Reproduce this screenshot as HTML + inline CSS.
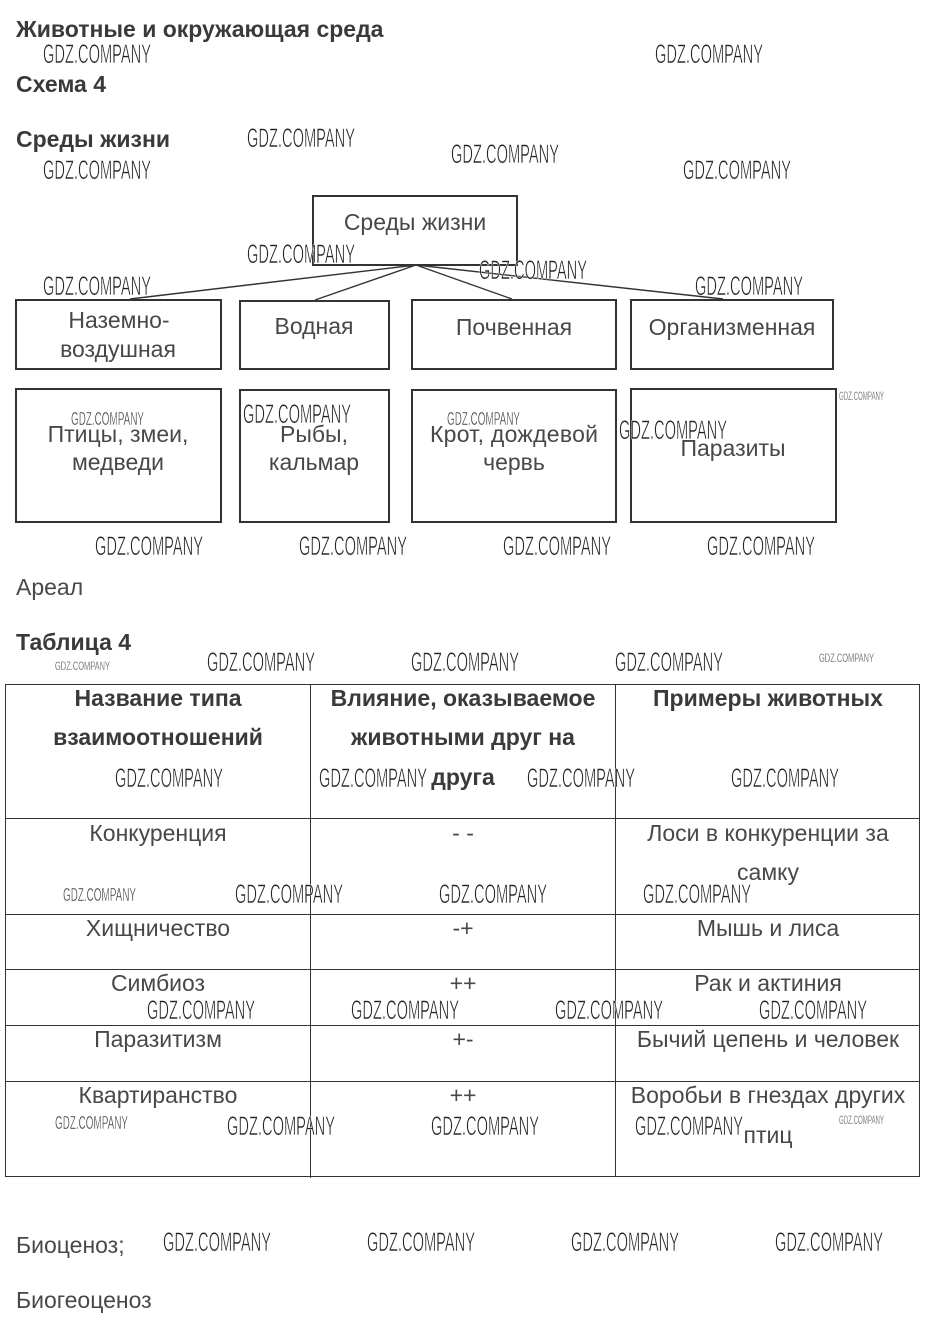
<!DOCTYPE html>
<html><head><meta charset="utf-8">
<style>
html,body{margin:0;padding:0;background:#fff}
svg{display:block}
text{font-family:"Liberation Sans",sans-serif;font-size:23px;fill:#484848}
.b{font-weight:bold;fill:#3a3a3a}
.c{text-anchor:middle}
.w{fill:#222;font-size:27px;stroke:#fff;stroke-width:.6px;transform:translateY(-1px)}
.m{fill:#333;font-size:18px;stroke:#fff;stroke-width:.4px}
.t{fill:#555;font-size:12px;stroke:#fff;stroke-width:.2px}
</style></head><body>
<svg width="928" height="1323" viewBox="0 0 928 1323" xmlns="http://www.w3.org/2000/svg">
<rect width="928" height="1323" fill="#fff"/>
<text class="b" x="16" y="37">Животные и окружающая среда</text>
<text class="b" x="16" y="92">Схема 4</text>
<text class="b" x="16" y="147">Среды жизни</text>

<g fill="none" stroke="#333" stroke-width="2">
<rect x="313" y="196" width="204" height="69"/>
<rect x="16" y="300" width="205" height="69"/>
<rect x="240" y="301" width="149" height="68"/>
<rect x="412" y="300" width="204" height="69"/>
<rect x="631" y="300" width="202" height="69"/>
<rect x="16" y="389" width="205" height="133"/>
<rect x="240" y="390" width="149" height="132"/>
<rect x="412" y="390" width="204" height="132"/>
<rect x="631" y="389" width="205" height="133"/>
</g>
<g stroke="#333" stroke-width="1.4" fill="none">
<path d="M416 265L130 299M416 265L315 300M416 265L512 299M416 265L723 299"/>
</g>
<g class="c">
<text class="c" x="415" y="230">Среды жизни</text>
<text class="c" x="119" y="328">Наземно-</text>
<text class="c" x="118" y="357">воздушная</text>
<text class="c" x="314" y="334">Водная</text>
<text class="c" x="514" y="335">Почвенная</text>
<text class="c" x="732" y="335">Организменная</text>
<text class="c" x="118" y="442">Птицы, змеи,</text>
<text class="c" x="118" y="470">медведи</text>
<text class="c" x="314" y="442">Рыбы,</text>
<text class="c" x="314" y="470">кальмар</text>
<text class="c" x="514" y="442" textLength="168">Крот, дождевой</text>
<text class="c" x="514" y="470">червь</text>
<text class="c" x="733" y="456">Паразиты</text>
</g>
<text x="16" y="595">Ареал</text>
<text class="b" x="16" y="650">Таблица 4</text>

<g stroke="#333" stroke-width="1" fill="none">
<path d="M5 684.5H920M5 818.5H920M5 914.5H920M5 969.5H920M5 1025.5H920M5 1081.5H920M5 1176.5H920"/>
<path d="M5.5 684V1177M310.5 684V1178M615.5 684V1177M919.5 684V1177"/>
</g>

<text class="b c" x="158" y="706">Название типа</text>
<text class="b c" x="158" y="745">взаимоотношений</text>
<text class="b c" x="463" y="706">Влияние, оказываемое</text>
<text class="b c" x="463" y="745">животными друг на</text>
<text class="b c" x="463" y="785">друга</text>
<text class="b c" x="768" y="706">Примеры животных</text>

<text class="c" x="158" y="841">Конкуренция</text>
<text class="c" x="463" y="841">- -</text>
<text class="c" x="768" y="841">Лоси в конкуренции за</text>
<text class="c" x="768" y="880">самку</text>
<text class="c" x="158" y="936">Хищничество</text>
<text class="c" x="463" y="936">-+</text>
<text class="c" x="768" y="936">Мышь и лиса</text>
<text class="c" x="158" y="991">Симбиоз</text>
<text class="c" x="463" y="991">++</text>
<text class="c" x="768" y="991">Рак и актиния</text>
<text class="c" x="158" y="1047">Паразитизм</text>
<text class="c" x="463" y="1047">+-</text>
<text class="c" x="768" y="1047">Бычий цепень и человек</text>
<text class="c" x="158" y="1103">Квартиранство</text>
<text class="c" x="463" y="1103">++</text>
<text class="c" x="768" y="1103">Воробьи в гнездах других</text>
<text class="c" x="768" y="1143">птиц</text>

<text x="16" y="1253">Биоценоз;</text>
<text x="16" y="1308">Биогеоценоз</text>

<g class="wm">
<text class="w" x="43" y="64" textLength="108" lengthAdjust="spacingAndGlyphs">GDZ.COMPANY</text>
<text class="w" x="655" y="64" textLength="108" lengthAdjust="spacingAndGlyphs">GDZ.COMPANY</text>
<text class="w" x="247" y="148" textLength="108" lengthAdjust="spacingAndGlyphs">GDZ.COMPANY</text>
<text class="w" x="451" y="164" textLength="108" lengthAdjust="spacingAndGlyphs">GDZ.COMPANY</text>
<text class="w" x="43" y="180" textLength="108" lengthAdjust="spacingAndGlyphs">GDZ.COMPANY</text>
<text class="w" x="683" y="180" textLength="108" lengthAdjust="spacingAndGlyphs">GDZ.COMPANY</text>
<text class="w" x="247" y="264" textLength="108" lengthAdjust="spacingAndGlyphs">GDZ.COMPANY</text>
<text class="w" x="479" y="280" textLength="108" lengthAdjust="spacingAndGlyphs">GDZ.COMPANY</text>
<text class="w" x="43" y="296" textLength="108" lengthAdjust="spacingAndGlyphs">GDZ.COMPANY</text>
<text class="w" x="695" y="296" textLength="108" lengthAdjust="spacingAndGlyphs">GDZ.COMPANY</text>
<text class="w" x="243" y="424" textLength="108" lengthAdjust="spacingAndGlyphs">GDZ.COMPANY</text>
<text class="w" x="619" y="440" textLength="108" lengthAdjust="spacingAndGlyphs">GDZ.COMPANY</text>
<text class="w" x="95" y="556" textLength="108" lengthAdjust="spacingAndGlyphs">GDZ.COMPANY</text>
<text class="w" x="299" y="556" textLength="108" lengthAdjust="spacingAndGlyphs">GDZ.COMPANY</text>
<text class="w" x="503" y="556" textLength="108" lengthAdjust="spacingAndGlyphs">GDZ.COMPANY</text>
<text class="w" x="707" y="556" textLength="108" lengthAdjust="spacingAndGlyphs">GDZ.COMPANY</text>
<text class="w" x="207" y="672" textLength="108" lengthAdjust="spacingAndGlyphs">GDZ.COMPANY</text>
<text class="w" x="411" y="672" textLength="108" lengthAdjust="spacingAndGlyphs">GDZ.COMPANY</text>
<text class="w" x="615" y="672" textLength="108" lengthAdjust="spacingAndGlyphs">GDZ.COMPANY</text>
<text class="w" x="115" y="788" textLength="108" lengthAdjust="spacingAndGlyphs">GDZ.COMPANY</text>
<text class="w" x="319" y="788" textLength="108" lengthAdjust="spacingAndGlyphs">GDZ.COMPANY</text>
<text class="w" x="527" y="788" textLength="108" lengthAdjust="spacingAndGlyphs">GDZ.COMPANY</text>
<text class="w" x="731" y="788" textLength="108" lengthAdjust="spacingAndGlyphs">GDZ.COMPANY</text>
<text class="w" x="235" y="904" textLength="108" lengthAdjust="spacingAndGlyphs">GDZ.COMPANY</text>
<text class="w" x="439" y="904" textLength="108" lengthAdjust="spacingAndGlyphs">GDZ.COMPANY</text>
<text class="w" x="643" y="904" textLength="108" lengthAdjust="spacingAndGlyphs">GDZ.COMPANY</text>
<text class="w" x="147" y="1020" textLength="108" lengthAdjust="spacingAndGlyphs">GDZ.COMPANY</text>
<text class="w" x="351" y="1020" textLength="108" lengthAdjust="spacingAndGlyphs">GDZ.COMPANY</text>
<text class="w" x="555" y="1020" textLength="108" lengthAdjust="spacingAndGlyphs">GDZ.COMPANY</text>
<text class="w" x="759" y="1020" textLength="108" lengthAdjust="spacingAndGlyphs">GDZ.COMPANY</text>
<text class="w" x="227" y="1136" textLength="108" lengthAdjust="spacingAndGlyphs">GDZ.COMPANY</text>
<text class="w" x="431" y="1136" textLength="108" lengthAdjust="spacingAndGlyphs">GDZ.COMPANY</text>
<text class="w" x="635" y="1136" textLength="108" lengthAdjust="spacingAndGlyphs">GDZ.COMPANY</text>
<text class="w" x="163" y="1252" textLength="108" lengthAdjust="spacingAndGlyphs">GDZ.COMPANY</text>
<text class="w" x="367" y="1252" textLength="108" lengthAdjust="spacingAndGlyphs">GDZ.COMPANY</text>
<text class="w" x="571" y="1252" textLength="108" lengthAdjust="spacingAndGlyphs">GDZ.COMPANY</text>
<text class="w" x="775" y="1252" textLength="108" lengthAdjust="spacingAndGlyphs">GDZ.COMPANY</text>
<text class="m" x="71" y="425" textLength="73" lengthAdjust="spacingAndGlyphs">GDZ.COMPANY</text>
<text class="m" x="447" y="425" textLength="73" lengthAdjust="spacingAndGlyphs">GDZ.COMPANY</text>
<text class="m" x="63" y="901" textLength="73" lengthAdjust="spacingAndGlyphs">GDZ.COMPANY</text>
<text class="m" x="55" y="1129" textLength="73" lengthAdjust="spacingAndGlyphs">GDZ.COMPANY</text>
<text class="t" x="839" y="400" textLength="45" lengthAdjust="spacingAndGlyphs">GDZ.COMPANY</text>
<text class="t" x="55" y="670" textLength="55" lengthAdjust="spacingAndGlyphs">GDZ.COMPANY</text>
<text class="t" x="819" y="662" textLength="55" lengthAdjust="spacingAndGlyphs">GDZ.COMPANY</text>
<text class="t" x="839" y="1124" textLength="45" lengthAdjust="spacingAndGlyphs">GDZ.COMPANY</text>
</g>
</svg>
</body></html>
